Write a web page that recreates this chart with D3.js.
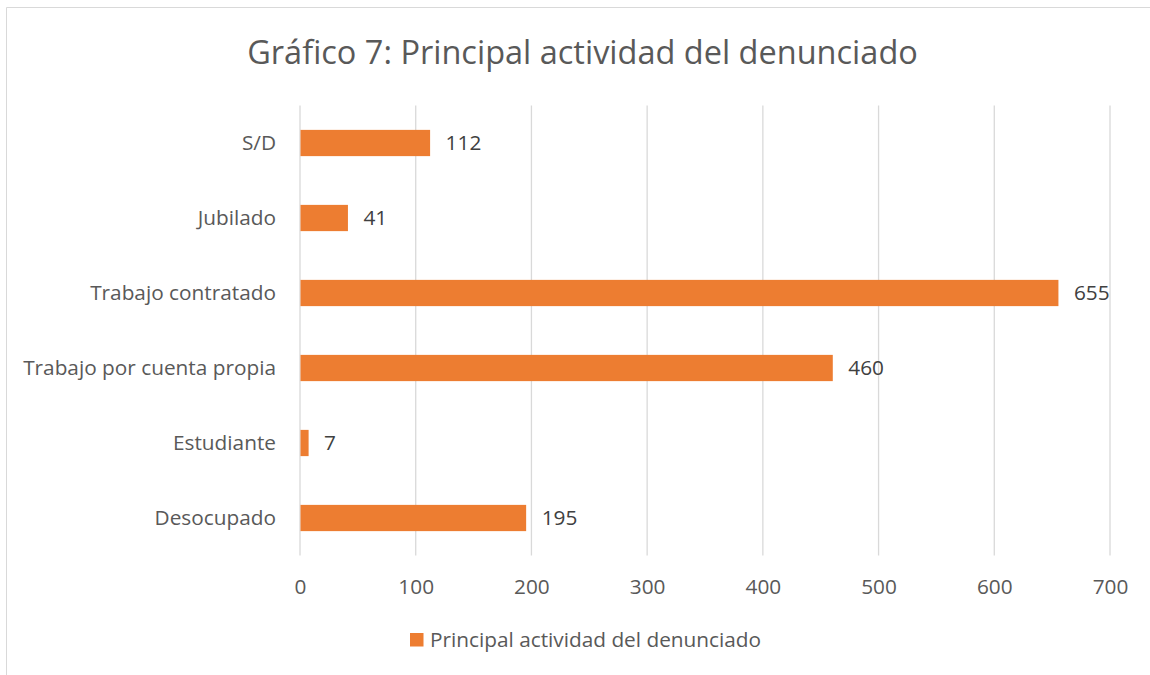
<!DOCTYPE html>
<html>
<head>
<meta charset="utf-8">
<script src="https://cdn.jsdelivr.net/npm/d3@7"></script>
<style>
  body { margin: 0; background: #fff; }
  svg { display: block; font-family: 'Open Sans', sans-serif; }
</style>
</head>
<body>
<div id="container"></div>
<script>
const categories = ['S/D', 'Jubilado', 'Trabajo contratado', 'Trabajo por cuenta propia', 'Estudiante', 'Desocupado'];
const values = [112, 41, 655, 460, 7, 195];
const xTicks = [0, 100, 200, 300, 400, 500, 600, 700];
const titleText = 'Gráfico 7: Principal actividad del denunciado';
const seriesName = 'Principal actividad del denunciado';

const svgWidth = 1150;
const svgHeight = 675;
const plotLeft = 300;
const plotRight = 1110;
const plotTop = 105.5;
const plotBottom = 555.5;
const textColor = '#595959';
const barColor = '#ED7D31';
const labelSize = '20.8px';

const svg = d3
  .select('#container')
  .append('svg')
  .attr('width', svgWidth)
  .attr('height', svgHeight);

// chart border (only top and left visible in the picture)
svg.append('path')
  .attr('d', `M6.5,${svgHeight} V7.5 H${svgWidth}`)
  .attr('fill', 'none')
  .attr('stroke', '#D9D9D9')
  .attr('stroke-width', 1);

// Title
svg.append('text')
  .attr('x', 582.5)
  .attr('y', 64)
  .attr('text-anchor', 'middle')
  .attr('fill', textColor)
  .style('font-size', '32.5px')
  .text(titleText);

// Scales
const xScale = d3.scaleLinear().domain([0, 700]).range([plotLeft, plotRight]);
const yScale = d3
  .scaleBand()
  .domain(categories)
  .range([plotTop, plotBottom])
  .paddingInner(0.65)
  .paddingOuter(0.325);

// Gridlines
svg.append('g')
  .selectAll('line')
  .data(xTicks)
  .enter()
  .append('line')
  .attr('x1', d => xScale(d))
  .attr('x2', d => xScale(d))
  .attr('y1', plotTop)
  .attr('y2', plotBottom)
  .attr('stroke', '#D9D9D9')
  .attr('stroke-width', 1.3);

// X axis labels
const xAxis = d3.axisBottom(xScale).tickValues(xTicks).tickSize(0).tickPadding(0);
const gx = svg.append('g')
  .attr('transform', `translate(0,${plotBottom + 24})`)
  .call(xAxis);
gx.select('.domain').remove();
gx.selectAll('text')
  .attr('fill', textColor)
  .style('font-size', labelSize)
  .style('font-family', "'Open Sans', sans-serif");

// Y axis labels
const yAxis = d3.axisLeft(yScale).tickSize(0).tickPadding(24);
const gy = svg.append('g')
  .attr('transform', `translate(${plotLeft},0)`)
  .call(yAxis);
gy.select('.domain').remove();
gy.selectAll('text')
  .attr('fill', textColor)
  .style('font-size', labelSize)
  .style('font-family', "'Open Sans', sans-serif");

// Bars
svg.append('g')
  .selectAll('rect')
  .data(values)
  .enter()
  .append('rect')
  .attr('x', xScale(0) + 0.5)
  .attr('y', (d, i) => yScale(categories[i]))
  .attr('width', d => xScale(d) - xScale(0))
  .attr('height', yScale.bandwidth())
  .attr('fill', barColor);

// Data labels
svg.append('g')
  .selectAll('text')
  .data(values)
  .enter()
  .append('text')
  .attr('x', d => xScale(d) + 16)
  .attr('y', (d, i) => yScale(categories[i]) + yScale.bandwidth() / 2)
  .attr('dy', '0.35em')
  .attr('fill', '#404040')
  .style('font-size', labelSize)
  .text(d => d);

// Legend
const legend = svg.append('g').attr('transform', 'translate(410,633)');
legend.append('rect')
  .attr('width', 13.5)
  .attr('height', 13.5)
  .attr('fill', barColor);
legend.append('text')
  .attr('x', 20)
  .attr('y', 6.75)
  .attr('dy', '0.35em')
  .attr('fill', textColor)
  .style('font-size', labelSize)
  .text(seriesName);
</script>
</body>
</html>
